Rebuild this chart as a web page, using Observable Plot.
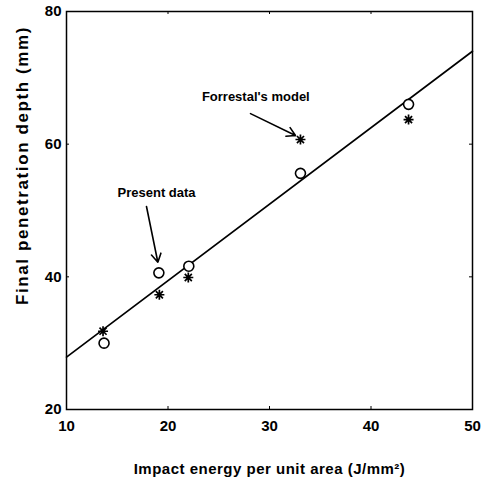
<!DOCTYPE html>
<html>
<head>
<meta charset="utf-8">
<script src="https://cdn.jsdelivr.net/npm/d3@7"></script>
<script src="https://cdn.jsdelivr.net/npm/@observablehq/plot@0.6"></script>
<style>
  html, body { margin: 0; padding: 0; background: #fff; }
  svg { font-family: "Liberation Sans", Arial, sans-serif; }
</style>
</head>
<body>
<div id="chart"></div>
<script>
// Present data (circles)
const presentX = [13.7, 19.1, 22.05, 33.05, 43.7];
const presentY = [30.0, 40.6, 41.6, 55.6, 66.0];
// Forrestal's model (asterisks)
const modelX = [13.6, 19.15, 22.0, 33.05, 43.7];
const modelY = [31.8, 37.3, 39.9, 60.7, 63.7];
// Fitted line endpoints
const fitX = [10, 50];
const fitY = [27.9, 74.0];
// Axis ticks
const xTicks = [10, 20, 30, 40, 50];
const yTicks = [20, 40, 60, 80];
const xDomain = [10, 50];
const yDomain = [20, 80];
// Titles
const xTitle = "Impact energy per unit area (J/mm²)";
const yTitle = "Final penetration depth (mm)";
// Annotations
const labels = ["Present data", "Forrestal's model"];
const labelX = [18.87, 28.65];
const labelY = [52.7, 67.1];
const arrowX1 = [17.88, 28.13];
const arrowY1 = [50.6, 64.6];
const arrowX2 = [19.0, 32.56];
const arrowY2 = [42.2, 61.3];

const present = presentX.map((x, i) => ({x, y: presentY[i]}));
const model = modelX.map((x, i) => ({x, y: modelY[i]}));
const fit = fitX.map((x, i) => ({x, y: fitY[i]}));
const notes = labels.map((t, i) => ({t, x: labelX[i], y: labelY[i]}));
const arrows = arrowX1.map((x1, i) => ({x1, y1: arrowY1[i], x2: arrowX2[i], y2: arrowY2[i]}));

// eight-armed asterisk symbol
const star8 = {
  draw(context, size) {
    const r = Math.sqrt(size / Math.PI);
    for (let k = 0; k < 4; k++) {
      const a = k * Math.PI / 4;
      const dx = r * Math.sin(a), dy = r * Math.cos(a);
      context.moveTo(-dx, -dy);
      context.lineTo(dx, dy);
    }
  }
};

const tickLen = 3;

const chart = Plot.plot({
  width: 483,
  height: 485,
  marginLeft: 66,
  marginRight: 11,
  marginTop: 11,
  marginBottom: 76,
  style: {fontFamily: '"Liberation Sans", Arial, sans-serif', background: "#fff", color: "#000"},
  x: {domain: xDomain, ticks: xTicks},
  y: {domain: yDomain, ticks: yTicks},
  marks: [
    Plot.axisX(xTicks, {tickSize: 0, tickPadding: 11, fontSize: 15, fontWeight: "bold", label: null}),
    Plot.axisY(yTicks, {tickSize: 0, tickPadding: 5, fontSize: 15, fontWeight: "bold", label: null}),
    // inward ticks
    Plot.tickX(xTicks, {x: d => d, insetTop: 398 - tickLen, stroke: "#000", strokeWidth: 1}),
    Plot.tickX(xTicks, {x: d => d, insetBottom: 398 - tickLen, stroke: "#000", strokeWidth: 1}),
    Plot.tickY(yTicks, {y: d => d, insetRight: 406 - tickLen, stroke: "#000", strokeWidth: 1}),
    Plot.tickY(yTicks, {y: d => d, insetLeft: 406 - tickLen, stroke: "#000", strokeWidth: 1}),
    Plot.frame({stroke: "#000", strokeWidth: 1.5}),
    Plot.line(fit, {x: "x", y: "y", stroke: "#000", strokeWidth: 1.7}),
    Plot.dot(present, {x: "x", y: "y", r: 5, stroke: "#000", strokeWidth: 1.6, fill: "#fff"}),
    Plot.dot(model, {x: "x", y: "y", r: 5, symbol: star8, stroke: "#000", strokeWidth: 1.7}),
    Plot.text(notes, {x: "x", y: "y", text: "t", fontSize: 13, fontWeight: "bold", fill: "#000"}),
    Plot.arrow(arrows, {x1: "x1", y1: "y1", x2: "x2", y2: "y2", stroke: "#000", strokeWidth: 1.6, headLength: 9}),
    Plot.text([xTitle], {frameAnchor: "bottom", dy: 64, fontSize: 15, fontWeight: "bold", fill: "#000"}),
    Plot.text([yTitle], {frameAnchor: "left", textAnchor: "middle", dx: -44, dy: -45, rotate: -90, fontSize: 17, fontWeight: "bold", fill: "#000"})
  ]
});
d3.select(chart).selectAll("text").each(function() {
  if (this.textContent === yTitle) d3.select(this).attr("letter-spacing", 1.6);
  if (this.textContent === xTitle) d3.select(this).attr("letter-spacing", 0.5);
});
document.getElementById("chart").appendChild(chart);
</script>
</body>
</html>
